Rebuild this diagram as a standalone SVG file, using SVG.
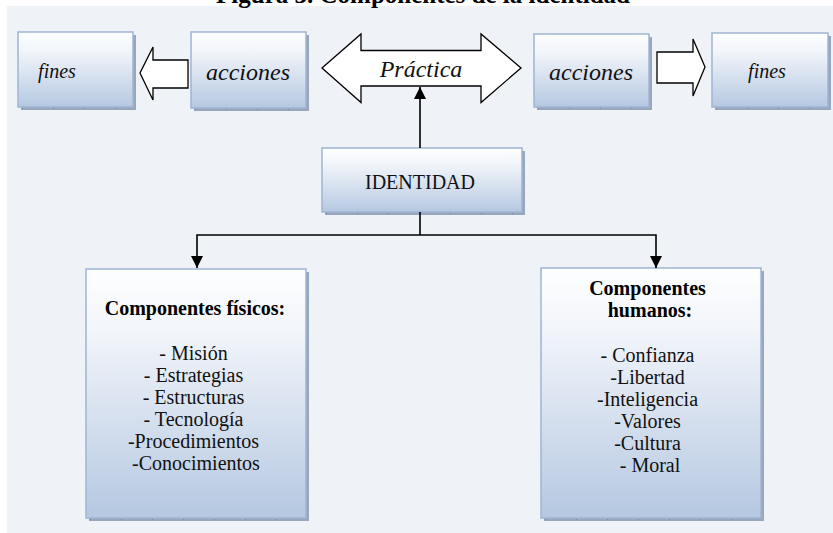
<svg xmlns="http://www.w3.org/2000/svg" width="833" height="533" viewBox="0 0 833 533">
<defs>
<linearGradient id="g" x1="0" y1="0" x2="0" y2="1">
<stop offset="0" stop-color="#fdfeff"/>
<stop offset="0.25" stop-color="#f2f5fa"/>
<stop offset="1" stop-color="#b5c8e1"/>
</linearGradient>
<marker id="ah2" viewBox="0 0 10 10" refX="10" refY="5" markerWidth="12" markerHeight="12" markerUnits="userSpaceOnUse" orient="auto">
<path d="M0,0 L10,5 L0,10 Z" fill="#000"/>
</marker>
</defs>
<style>
.shadow{fill:#98a7bc}
.box{fill:url(#g);stroke:#9fb5d3;stroke-width:1.5}
.ticks{stroke:#7a889c;stroke-width:1;stroke-dasharray:1 30}
.it{font-family:"Liberation Serif","Times New Roman",serif;font-style:italic;fill:#111;text-anchor:middle}
.rg{font-family:"Liberation Serif","Times New Roman",serif;fill:#111;text-anchor:middle}
.bd{font-family:"Liberation Serif","Times New Roman",serif;font-weight:bold;fill:#000;text-anchor:middle}
.conn{fill:none;stroke:#000;stroke-width:1.6}
.hollow{fill:#fff;stroke:#000;stroke-width:1.3;stroke-linejoin:miter}
</style>
<rect x="0" y="0" width="833" height="533" fill="#fff"/>
<rect x="7" y="6" width="826" height="527" fill="#eff3f8"/>
<text x="423" y="3" class="bd" font-size="25">Figura 3. Componentes de la identidad</text>

<g id="fines-left">
<rect class="shadow" x="21" y="35" width="115" height="75"/>
<rect class="box" x="18" y="32" width="115" height="75"/>
<line class="ticks" x1="22" y1="108.5" x2="133" y2="108.5"/>
<text class="it" x="57" y="78" font-size="20">fines</text>
</g>

<g id="acciones-left">
<rect class="shadow" x="194" y="35" width="115" height="76"/>
<rect class="box" x="191" y="32" width="115" height="76"/>
<line class="ticks" x1="195" y1="109.5" x2="306" y2="109.5"/>
<text class="it" x="248" y="80" font-size="24">acciones</text>
</g>

<g id="practica">
<path class="hollow" d="M322,68 L361,34 L361,50.5 L481,50.5 L481,34 L521,68 L481,102.5 L481,86 L361,86 L361,102.5 Z"/>
<text class="it" x="421" y="77" font-size="24">Práctica</text>
</g>

<g id="acciones-right">
<rect class="shadow" x="537" y="37" width="115" height="73"/>
<rect class="box" x="534" y="34" width="115" height="73"/>
<line class="ticks" x1="538" y1="108.5" x2="649" y2="108.5"/>
<text class="it" x="591" y="80" font-size="24">acciones</text>
</g>

<g id="fines-right">
<rect class="shadow" x="715" y="36" width="116" height="74"/>
<rect class="box" x="712" y="33" width="116" height="74"/>
<line class="ticks" x1="716" y1="108.5" x2="828" y2="108.5"/>
<text class="it" x="767" y="78" font-size="20">fines</text>
</g>

<g id="identidad">
<rect class="shadow" x="325" y="151" width="200" height="64"/>
<rect class="box" x="322" y="148" width="200" height="64"/>
<line class="ticks" x1="326" y1="213.5" x2="522" y2="213.5"/>
<text class="rg" x="420" y="189" font-size="20">IDENTIDAD</text>
</g>

<g id="fisicos">
<rect class="shadow" x="89" y="272" width="220" height="249"/>
<rect class="box" x="86" y="269" width="220" height="249"/>
<line class="ticks" x1="90" y1="519.5" x2="306" y2="519.5"/>
<text class="bd" x="195" y="315" font-size="20">Componentes físicos:</text>
<text class="rg" font-size="20">
<tspan x="196" y="360">- Misión</tspan>
<tspan x="196" y="382">- Estrategias</tspan>
<tspan x="196" y="404">- Estructuras</tspan>
<tspan x="196" y="426">- Tecnología</tspan>
<tspan x="196" y="448">-Procedimientos</tspan>
<tspan x="196" y="470">-Conocimientos</tspan>
</text>
</g>

<g id="humanos">
<rect class="shadow" x="544" y="271" width="220" height="250"/>
<rect class="box" x="541" y="268" width="220" height="250"/>
<line class="ticks" x1="545" y1="519.5" x2="761" y2="519.5"/>
<text class="bd" font-size="20">
<tspan x="650" y="295">Componentes</tspan>
<tspan x="650" y="317">humanos:</tspan>
</text>
<text class="rg" font-size="20">
<tspan x="650" y="362">- Confianza</tspan>
<tspan x="650" y="384">-Libertad</tspan>
<tspan x="650" y="406">-Inteligencia</tspan>
<tspan x="650" y="428">-Valores</tspan>
<tspan x="650" y="450">-Cultura</tspan>
<tspan x="650" y="472">- Moral</tspan>
</text>
</g>

<g id="connectors">
<path class="hollow" d="M188,60 L153,60 L153,47 L140,73 L153,100 L153,88 L188,88 Z"/>
<path class="hollow" d="M657,52 L693,52 L693,39 L705,67 L693,96 L693,83 L657,83 Z"/>
<line class="conn" x1="420" y1="148" x2="420" y2="87" marker-end="url(#ah2)"/>
<polyline class="conn" points="420,212 420,235"/>
<polyline class="conn" points="420,235 197,235 197,268" marker-end="url(#ah2)"/>
<polyline class="conn" points="420,235 656,235 656,268" marker-end="url(#ah2)"/>
</g>
</svg>
